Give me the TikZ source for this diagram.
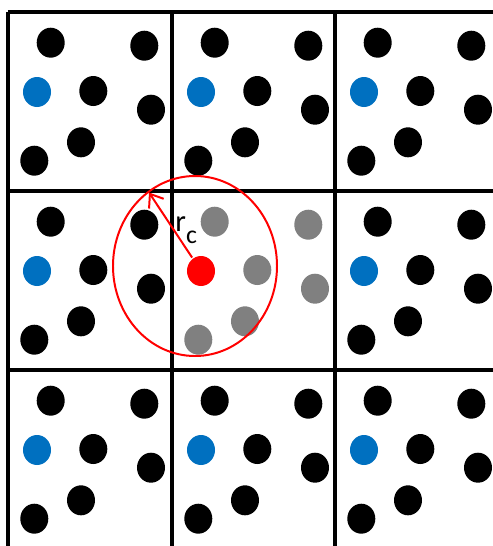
\documentclass[tikz,border=0pt]{standalone}
\usepackage{fontspec}
\setmainfont{Carlito}
\usetikzlibrary{arrows.meta,shapes.geometric}
\definecolor{dotblue}{HTML}{0070C0}
\definecolor{dotgrey}{HTML}{808080}
\definecolor{cutred}{HTML}{FF0000}

\begin{document}
\begin{tikzpicture}[x=.03cm,y=-.03cm,line width=2.5pt,
  dot/.style={ellipse,inner sep=0,minimum width=.84cm,minimum height=.9cm},
  blackdot/.style={dot,fill=black},
  bluedot/.style={dot,fill=dotblue},
  greydot/.style={dot,fill=dotgrey},
  reddot/.style={dot,fill=cutred},
  gridline/.style={black,line width=3pt},
  cutoff/.style={ellipse,draw=cutred,line width=1.7pt,inner sep=0,minimum width=4.92cm,minimum height=5.4cm},
  rarrow/.style={-{Straight Barb[length=10pt,width=15pt]},cutred,line width=1.7pt}]
\path[use as bounding box] (0,0) rectangle (493,546);

% periodic cells
\foreach \y in {12,191,370} \draw[gridline] (8,\y) -- (493,\y);
\foreach \x in {8,172,335} \draw[gridline] (\x,12) -- (\x,546);

\foreach \cx/\i in {8/1,172/2,335/3}{
  \foreach \cy/\j in {12/1,191/2,370/3}{
    \ifnum\i\j=22 \tikzset{plain/.style={greydot},tagged/.style={reddot}}
    \else \tikzset{plain/.style={blackdot},tagged/.style={bluedot}}\fi
    \begin{scope}[shift={(\cx,\cy)}]
      \foreach \px/\py/\k in {42.7/30.7/a,136.3/33.7/b,85.3/79/c,143/97.7/d,73/130.3/e,26.3/148.7/f}
        \node[plain] (d\i\j\k) at (\px,\py) {};
      \node[tagged] (t\i\j) at (29,80) {};
    \end{scope}
  }
}

% cut-off radius
\node[cutoff] (cut) at (195,266) {};
\coordinate (rcTip) at (149,192.5);
\draw[rarrow] (t22) -- (rcTip);
\node[anchor=base west,inner sep=0,font=\fontsize{26}{26}\selectfont] (rc) at (174,231.7) {r\raisebox{-9.9pt}{\fontsize{22}{22}\selectfont c}};

\end{tikzpicture}
\end{document}
